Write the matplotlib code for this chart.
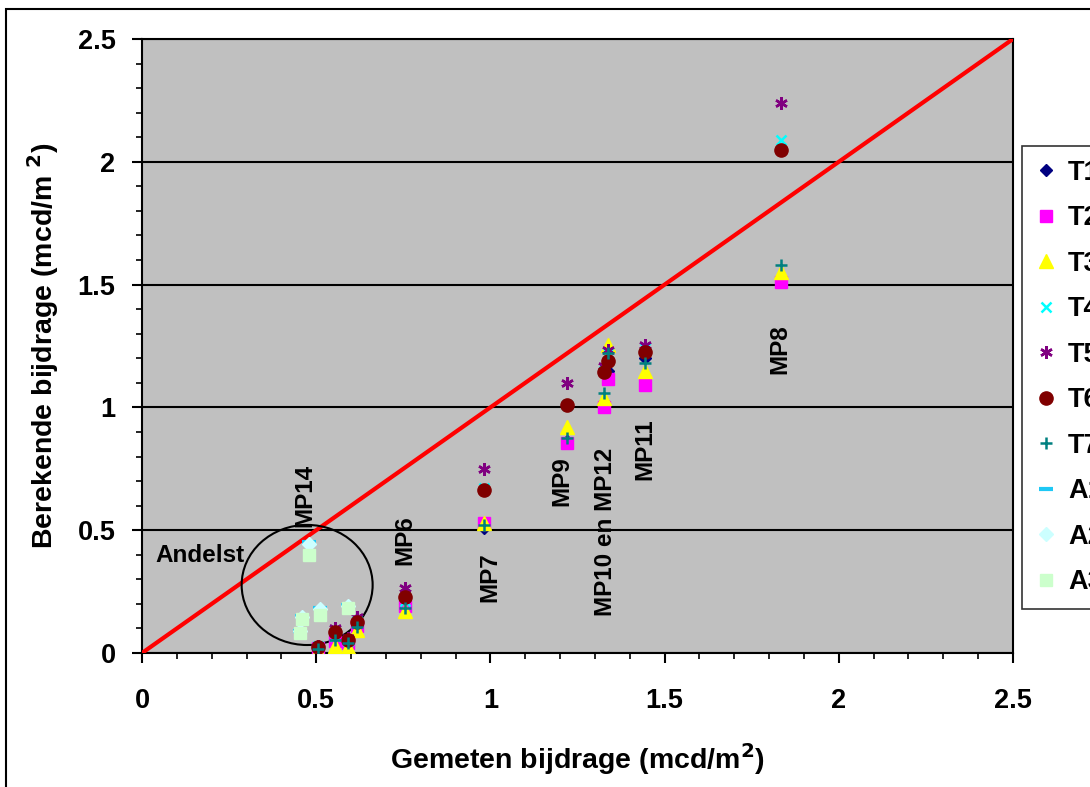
import numpy as np
import matplotlib.pyplot as plt
from matplotlib.patches import Ellipse, Rectangle

plt.rcParams.update({'font.family': ['Liberation Sans', 'DejaVu Sans'],
                     'font.weight': 'bold', 'mathtext.default': 'bf'})

# measured contribution for each measuring point (mcd/m2)
mp_x = [0.505, 0.554, 0.591, 0.617, 0.755, 0.982, 1.22, 1.325, 1.337, 1.444, 1.834]

# calculated contributions per calculation method
T1 = [0.02, 0.06, 0.04, 0.12, 0.19, 0.51, 0.865, 1.02, 1.15, 1.20, 1.52]
T2 = [0.02, 0.05, 0.04, 0.11, 0.19, 0.53, 0.855, 1.00, 1.115, 1.09, 1.51]
T3 = [0.01, 0.03, 0.025, 0.095, 0.17, 0.53, 0.92, 1.04, 1.255, 1.15, 1.55]
T4 = [0.03, 0.07, 0.05, 0.13, 0.21, 0.67, 1.01, 1.15, 1.22, 1.24, 2.09]
T5 = [0.03, 0.10, 0.06, 0.145, 0.265, 0.75, 1.10, 1.17, 1.235, 1.254, 2.24]
T6 = [0.024, 0.085, 0.053, 0.127, 0.23, 0.665, 1.01, 1.145, 1.19, 1.226, 2.05]
T7 = [0.016, 0.053, 0.04, 0.107, 0.185, 0.52, 0.875, 1.06, 1.22, 1.18, 1.58]

# Andelst points
and_x = [0.479, 0.46, 0.454, 0.511, 0.591]
A1 = [0.45, 0.15, 0.09, 0.185, 0.195]
A2 = [0.444, 0.147, 0.088, 0.18, 0.19]
A3 = [0.40, 0.14, 0.08, 0.155, 0.183]

series = [('T1', mp_x, T1, dict(marker='D', color='#000080', ms=6.5)),
          ('T2', mp_x, T2, dict(marker='s', color='#FF00FF', ms=8)),
          ('T3', mp_x, T3, dict(marker='^', color='#FFFF00', ms=9.5)),
          ('T4', mp_x, T4, dict(marker='x', color='#00FFFF', ms=7, mew=1.8)),
          ('T5', mp_x, T5, dict(marker=(6, 2, 0), color='#800080', ms=9, mew=1.8)),
          ('T6', mp_x, T6, dict(marker='o', color='#800000', ms=9.5)),
          ('T7', mp_x, T7, dict(marker='+', color='#008080', ms=9, mew=1.8)),
          ('A1', and_x, A1, dict(marker='_', color='#1EC8F5', ms=10, mew=3)),
          ('A2', and_x, A2, dict(marker='D', color='#CCFFFF', ms=7.5)),
          ('A3', and_x, A3, dict(marker='s', color='#CCFFCC', ms=8.5))]

labels = [('MP14', 0.468, 0.643, 90), ('MP6', 0.755, 0.460, 90), ('MP7', 0.999, 0.310, 90),
          ('MP9', 1.205, 0.700, 90), ('MP10 en MP12', 1.329, 0.493, 90),
          ('MP11', 1.444, 0.830, 90), ('MP8', 1.831, 1.238, 90)]

fig = plt.figure(figsize=(10.9, 7.87), dpi=100)
ax = fig.add_axes([142 / 1090, 1 - 653 / 787, 871 / 1090, 614 / 787])
ax.set_facecolor('#C0C0C0')

ax.plot([0, 2.5], [0, 2.5], color='red', lw=3, zorder=3)
for name, xs, ys, kw in series:
    ax.plot(xs, ys, ls='none', mec=kw['color'], mfc=kw['color'], label=name, zorder=5,
            **{k: v for k, v in kw.items() if k != 'color'})

ax.add_patch(Ellipse((0.474, 0.277), 0.376, 0.489, fill=False, lw=1.5, ec='black', zorder=4))

for txt, lx, ly, rot in labels:
    ax.text(lx, ly, txt, rotation=rot, ha='center', va='center', fontsize=17.5, fontweight='bold')
ax.text(0.037, 0.399, 'Andelst', ha='left', va='center', fontsize=17.5, fontweight='bold')

ax.set_xlim(0, 2.5)
ax.set_ylim(0, 2.5)
ax.set_xticks(np.arange(0, 2.51, 0.5))
ax.set_yticks(np.arange(0, 2.51, 0.5))
ax.set_xticks(np.arange(0, 2.51, 0.1), minor=True)
ax.set_yticks(np.arange(0, 2.51, 0.1), minor=True)
ax.set_xticklabels(['0', '0.5', '1', '1.5', '2', '2.5'])
ax.set_yticklabels(['0', '0.5', '1', '1.5', '2', '2.5'])
ax.tick_params(which='major', direction='out', length=7, width=1.5, labelsize=19.5)
ax.tick_params(which='minor', direction='out', length=4, width=1.2)
ax.tick_params(axis='x', which='major', pad=18)
ax.tick_params(axis='y', which='major', pad=12)
ax.yaxis.grid(True, which='major', color='black', lw=1.5)
ax.set_axisbelow(True)
for sp in ax.spines.values():
    sp.set_linewidth(1.5)

ax.set_xlabel('Gemeten bijdrage (mcd/m$^2$)', fontsize=20.5, fontweight='bold', labelpad=20)
ax.set_ylabel('Berekende bijdrage (mcd/m $^2$)', fontsize=20.5, fontweight='bold', labelpad=12)

leg = ax.legend(loc='upper left', bbox_to_anchor=(1022 / 1090, 1 - 146 / 787),
                bbox_transform=fig.transFigure, borderaxespad=0, frameon=True, fancybox=False,
                edgecolor='black', fontsize=19.5, handlelength=0.8, handletextpad=0.4,
                labelspacing=0.72, borderpad=0.5, numpoints=1)
leg.get_frame().set_linewidth(1.2)
for t in leg.get_texts():
    t.set_fontweight('bold')

fig.add_artist(Rectangle((6 / 1090, -0.05), 1.2, 1 - 9 / 787 + 0.05, transform=fig.transFigure,
                         fill=False, lw=1.5, ec='black'))

plt.savefig('out.png', dpi=100)
